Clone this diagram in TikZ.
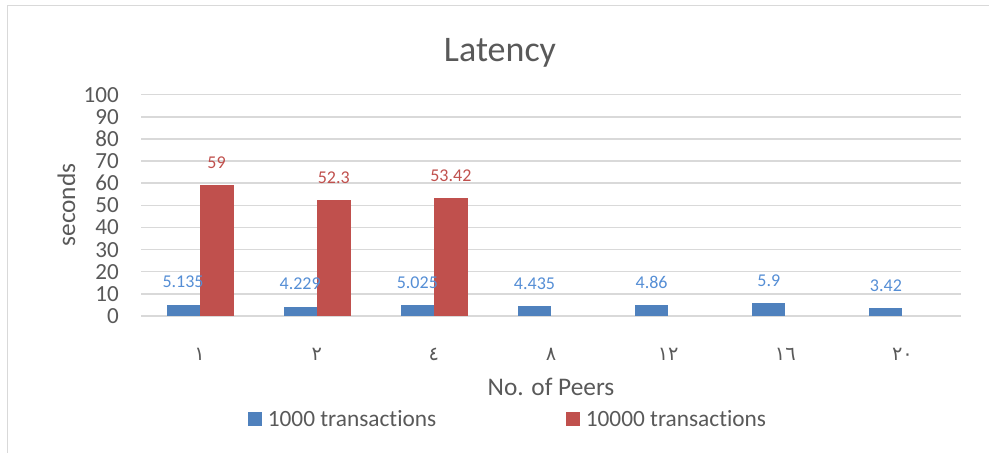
\documentclass[tikz,border=0pt]{standalone}
\usepackage{fontspec}
\setmainfont{Carlito}[Ligatures=NoCommon]
\newfontfamily\arabicfont[Script=Arabic]{DejaVu Sans}

\definecolor{barblue}{HTML}{4F81BD}
\definecolor{barred}{HTML}{C0504D}
\definecolor{lblblue}{HTML}{558ED5}
\definecolor{textgray}{HTML}{595959}
\definecolor{gridgray}{HTML}{D9D9D9}

\tikzset{
	gridline/.style={draw=gridgray, line width=1.1pt},
	ticktext/.style={text=textgray, inner sep=0pt, font=\fontsize{17.3}{20}\selectfont},
	cattext/.style={text=textgray, inner sep=0pt, font=\arabicfont\fontsize{14.5}{16}\selectfont},
	valone/.style={text=lblblue, inner sep=0pt, font=\fontsize{13.5}{16}\selectfont},
	valtwo/.style={text=barred, inner sep=0pt, font=\fontsize{13.5}{16}\selectfont},
	axistext/.style={text=textgray, inner sep=0pt, font=\fontsize{19}{22}\selectfont},
	legendtext/.style={text=textgray, inner sep=0pt, anchor=base west, font=\fontsize{17.5}{20}\selectfont},
	keybox/.style={minimum size=10.5pt, inner sep=0pt}
}

\begin{document}
\begin{tikzpicture}[x=0.75pt,y=-0.75pt]
	\useasboundingbox (0,0) rectangle (989,453);
	\draw[gridgray, line width=1.1pt] (7.5,453) -- (7.5,5.5) -- (989,5.5);

	\node[text=textgray, inner sep=0pt, anchor=base, font=\fontsize{27}{30}\selectfont] (title) at (500,62) {Latency};

	% value axis
	\foreach \v [count=\k] in {0,10,...,100} {
		\draw[gridline] (141,316-\v*2.213) -- (961,316-\v*2.213);
		\node[ticktext, anchor=east] (tick\k) at (119,316-\v*2.213) {\v};
	}
	\node[axistext, rotate=90, anchor=base] (ylabel) at (75,205) {seconds};

	% bars
	\foreach \v [count=\i] in {5.135,4.229,5.025,4.435,4.86,5.9,3.42} {
		\pgfmathsetmacro\cx{141+(\i-0.5)*117.14}
		\fill[barblue] (\cx-33,316) rectangle (\cx,316-\v*2.213);
	}
	\foreach \v [count=\i] in {59,52.3,53.42} {
		\pgfmathsetmacro\cx{141+(\i-0.5)*117.14}
		\fill[barred] (\cx,316) rectangle (\cx+34,316-\v*2.213);
	}
	\foreach \v [count=\i] in {5.135,4.229,5.025,4.435,4.86,5.9,3.42} {
		\pgfmathsetmacro\cx{141+(\i-0.5)*117.14}
		\node[valone] (valone\i) at (\cx-16.5,316-\v*2.213-22.5) {\v};
	}
	\foreach \v [count=\i] in {59,52.3,53.42} {
		\pgfmathsetmacro\cx{141+(\i-0.5)*117.14}
		\node[valtwo] (valtwo\i) at (\cx+17,316-\v*2.213-22.5) {\v};
	}

	% categories
	\foreach \c [count=\i] in {١,٢,٤,٨,١٢,١٦,٢٠} {
		\pgfmathsetmacro\cx{141+(\i-0.5)*117.14}
		\node[cattext, anchor=base] (cat\i) at (\cx,360) {\c};
	}
	\node[axistext, anchor=base] (xlabel) at (551,395) {No. of Peers};

	% legend
	\node[keybox, fill=barblue] (keyone) at (255,419) {};
	\node[legendtext] (legone) at (267.5,426) {1000 transactions};
	\node[keybox, fill=barred] (keytwo) at (573,419) {};
	\node[legendtext] (legtwo) at (585.5,426) {10000 transactions};
\end{tikzpicture}
\end{document}
